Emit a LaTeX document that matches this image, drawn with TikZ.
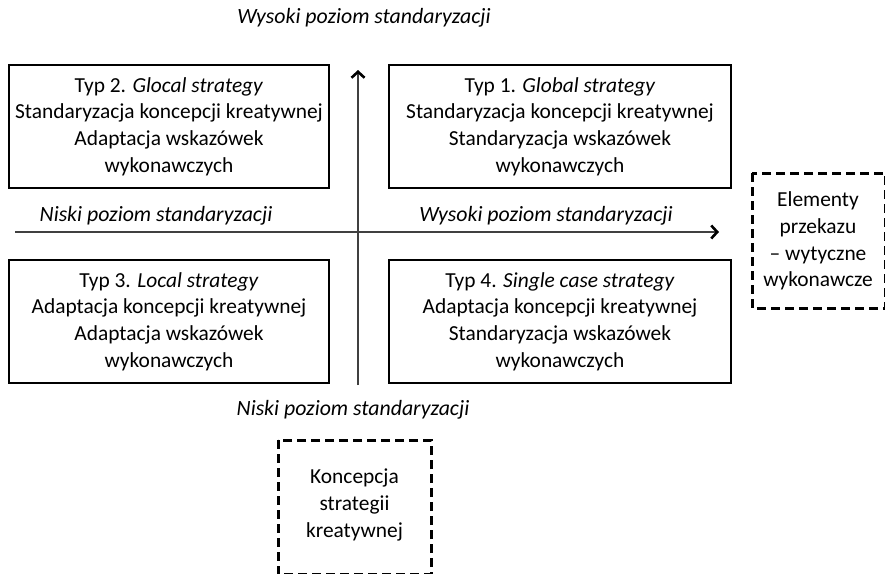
\documentclass[tikz,border=0pt]{standalone}
\usepackage{fontspec}
\setmainfont{Carlito}
\usetikzlibrary{arrows.meta}
\begin{document}
\begin{tikzpicture}[x=1pt,y=-1pt,
  txt/.style={font=\fontsize{21.4}{26.7}\selectfont, align=center, inner sep=0pt},
  solidbox/.style={draw=black, line width=2.6pt},
  dashbox/.style={draw=black, line width=3pt, dash pattern=on 9pt off 5pt},
  axis/.style={draw=black!75, line width=2pt, -{Straight Barb[length=6pt,width=13pt,line width=2.6pt,black]}},
  lab/.style={font=\fontsize{21.8}{24}\selectfont\itshape, inner sep=0pt}]
\useasboundingbox (0,0) rectangle (885,573);
\clip (0,0) rectangle (885,573);
% quadrant boxes
\draw[solidbox] (9,65) rectangle (329,188);
\draw[solidbox] (389,65) rectangle (731,188);
\draw[solidbox] (9,260) rectangle (329,383);
\draw[solidbox] (389,260) rectangle (731,383);
\node[txt] (t2) at (169,126.5) {Typ 2. \textit{Glocal strategy}\\Standaryzacja koncepcji kreatywnej\\Adaptacja wskazówek\\wykonawczych};
\node[txt] (t1) at (560,126.5) {Typ 1. \textit{Global strategy}\\Standaryzacja koncepcji kreatywnej\\Standaryzacja wskazówek\\wykonawczych};
\node[txt] (t3) at (169,321.5) {Typ 3. \textit{Local strategy}\\Adaptacja koncepcji kreatywnej\\Adaptacja wskazówek\\wykonawczych};
\node[txt] (t4) at (560,321.5) {Typ 4. \textit{Single case strategy}\\Adaptacja koncepcji kreatywnej\\Standaryzacja wskazówek\\wykonawczych};
% axes
\coordinate (hs) at (15,232);
\coordinate (he) at (719,232);
\coordinate (vs) at (358,385);
\coordinate (ve) at (358,70);
\draw[axis] (hs) -- (he);
\draw[axis] (vs) -- (ve);
% axis labels
\node[lab] (ltop) at (364,18) {Wysoki poziom standaryzacji};
\node[lab] (lleft) at (156,216) {Niski poziom standaryzacji};
\node[lab] (lright) at (546,216) {Wysoki poziom standaryzacji};
\node[lab] (lbot) at (353,410) {Niski poziom standaryzacji};
% dashed boxes
\draw[dashbox] (752,173) rectangle (885.5,308);
\node[txt] (el) at (818,241) {Elementy\\przekazu\\– wytyczne\\wykonawcze};
\draw[dashbox] (278,440) rectangle (431,574);
\node[txt] (ko) at (354.5,505) {Koncepcja\\strategii\\kreatywnej};
\end{tikzpicture}
\end{document}
